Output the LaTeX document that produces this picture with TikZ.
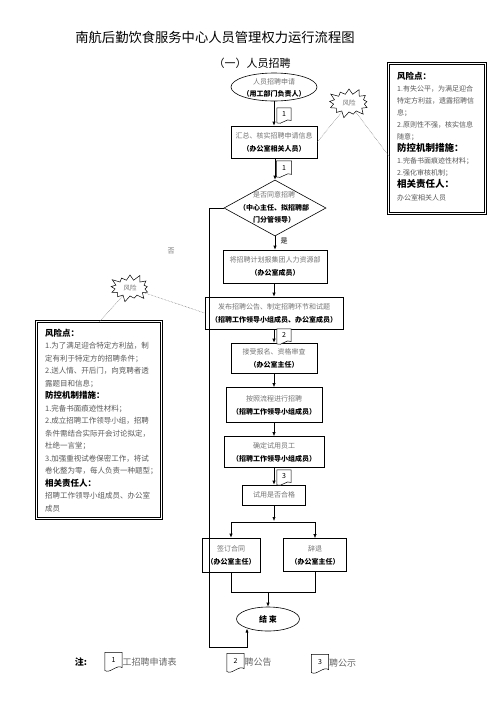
\documentclass[tikz,border=0pt]{standalone}
\usepackage{fontspec}
\setmainfont{Noto Sans CJK SC}
\usetikzlibrary{shapes.geometric,shapes.symbols,arrows.meta}
\newcommand\greytext[1]{{\color{black!55}#1}}
\newcommand\docmark[4]{%
  \node[docnode, minimum width=#4, minimum height=#4] (#1) at (#2) {};
  \draw[docline] (#1.north west) -- (#1.north east) -- ([yshift=0.12*#4]#1.south east)
     .. controls ([xshift=-0.3*#4, yshift=0.35*#4]#1.south east) and ([xshift=0.3*#4, yshift=-0.25*#4]#1.south west) ..
     ([yshift=-0.05*#4]#1.south west) -- cycle;
  \node[doctext] (#1t) at ([yshift=0.6pt]#1) {#3};}
\begin{document}
\begin{tikzpicture}[x=1pt,y=-1pt,
  flowbox/.style={draw, line width=0.6pt, fill=white, align=center, inner sep=1pt,
     font=\fontsize{7}{13}\selectfont},
  arr/.style={-{Latex[length=4pt,width=3.2pt]}, line width=0.6pt},
  riskline/.style={densely dotted, line width=0.5pt, black!60},
  docnode/.style={inner sep=0pt, draw=none},
  docline/.style={draw, line width=0.5pt, fill=white},
  doctext/.style={inner sep=0pt, font=\fontsize{7}{8}\selectfont},
  riskbox/.style={draw=black, line width=0.5pt, fill=white},
  riskframe/.style={draw=black, line width=1.4pt},
  sburst/.style={starburst, draw, line width=0.5pt, fill=white, inner sep=0pt,
     starburst point height=7pt, starburst points=13, text=black!55,
     font=\fontsize{6.5}{7}\selectfont},
  lbl/.style={inner sep=0pt, font=\fontsize{7}{8}\selectfont}
]
\useasboundingbox (0,0) rectangle (496,702);
\fill[white] (0,0) rectangle (496,702);

% titles
\node[inner sep=0pt, font=\fontsize{13.3}{14}\selectfont] (title) at (215,37) {南航后勤饮食服务中心人员管理权力运行流程图};
\node[inner sep=0pt, font=\fontsize{11}{12}\selectfont] (subtitle) at (252,63) {（一）人员招聘};

% start ellipse
\node[ellipse, draw, line width=0.6pt, minimum width=86pt, minimum height=28pt, inner sep=0pt] (e1) at (274,87) {};
\node[inner sep=0pt, align=center, font=\fontsize{7}{12}\selectfont] (e1t) at (274,88) {\greytext{人员招聘申请}\\\textbf{（用工部门负责人）}};

\node[flowbox, minimum width=86pt, minimum height=32pt] (b1) at (274,142) {\greytext{汇总、核实招聘申请信息}\\\textbf{（办公室相关人员）}};

\node[diamond, draw, line width=0.6pt, minimum width=102pt, minimum height=56pt, inner sep=0pt] (dm) at (275,208) {};
\node[inner sep=0pt, align=center, font=\fontsize{7}{12.5}\selectfont] (dmt) at (274,207.5) {\greytext{是否同意招聘}\\\textbf{（中心主任、拟招聘部}\\\textbf{门分管领导）}};

\node[flowbox, minimum width=104pt, minimum height=33pt] (b2) at (275,266.5) {\greytext{将招聘计划报集团人力资源部}\\\textbf{（办公室成员）}};
\node[flowbox, minimum width=138pt, minimum height=32pt] (b3) at (274,313) {\greytext{发布招聘公告、制定招聘环节和试题}\\\textbf{（招聘工作领导小组成员、办公室成员）}};
\node[flowbox, minimum width=86pt, minimum height=30pt] (b4) at (274,358) {\greytext{接受报名、资格审查}\\\textbf{（办公室主任）}};
\node[flowbox, minimum width=96pt, minimum height=35pt] (b5) at (274,405) {\greytext{按照流程进行招聘}\\\textbf{（招聘工作领导小组成员）}};
\node[flowbox, minimum width=100pt, minimum height=31pt] (b6) at (274,452) {\greytext{确定试用员工}\\\textbf{（招聘工作领导小组成员）}};
\node[flowbox, minimum width=63pt, minimum height=20pt] (b7) at (274,495) {\greytext{试用是否合格}};
\node[flowbox, minimum width=58pt, minimum height=34pt] (b8) at (231,555) {\greytext{签订合同}\\\textbf{（办公室主任）}};
\node[flowbox, minimum width=63pt, minimum height=33pt] (b9) at (315,555) {\greytext{辞退}\\\textbf{（办公室主任）}};
\node[ellipse, draw, line width=0.6pt, fill=white, minimum width=63pt, minimum height=24pt, inner sep=0pt,
      font=\fontsize{8}{9}\selectfont\bfseries] (e2) at (268,619) {结 束};

% main arrows
\draw[arr] (e1) -- (b1);
\draw[arr] (b1.south -| dm) -- (dm);
\draw[arr] (dm) -- (b2);
\node[lbl] (yes) at (284,241) {是};
\draw[arr] (b2.south -| b3) -- (b3);
\draw[arr] (b3) -- (b4);
\draw[arr] (b4) -- (b5);
\draw[arr] (b5) -- (b6);
\draw[arr] (b6) -- (b7);
\coordinate (jc) at (274,521);
\coordinate (jl) at (231,522);
\coordinate (jr) at (315,522);
\draw[arr] (b7) -- (jc);
\draw[line width=0.6pt] (jl) -- (jr);
\draw[arr] (jl) -- (b8);
\draw[arr] (jr) -- (b9);
\coordinate (ml) at (231,592);
\coordinate (mr) at (315,592);
\coordinate (mm) at (268,592);
\draw[line width=0.6pt] (b8.south) -- (ml) -- (mr) -- (b9.south);
\draw[arr] (mm) -- (e2);

% document markers
\docmark{d1}{284,115}{1}{14pt}
\docmark{d1b}{284,168.5}{1}{15pt}
\docmark{d2}{284,336}{2}{14pt}
\docmark{d3}{284,477}{3}{14pt}

% "no" branch
\node[lbl, text=black!55] (no) at (171,251) {否};
\coordinate (c1) at (209,208);
\coordinate (c2) at (209,647);
\coordinate (c3) at (247,647);
\coordinate (c4) at (247,628.5);
\draw[arr, line width=0.9pt] (dm.west) -- (c1) -- (c2) -- (c3) -- (c4);

% right risk
\node[sburst, minimum width=45pt, minimum height=32pt] (sb1) at (349,103) {风险};
\node[riskbox, minimum width=95pt, minimum height=148pt] (rb) at (437,138.5) {};
\draw[riskframe] ([shift={(-1.8pt,1.8pt)}]rb.north west) rectangle ([shift={(1.8pt,-1.8pt)}]rb.south east);
\node[anchor=north west, align=left, inner sep=0pt, text=black!65, font=\fontsize{7}{12.1}\selectfont] (rbt) at (397,71.5) {%
{\color{black}\bfseries\fontsize{8.5}{12.1}\selectfont 风险点：}\\
1.有失公平，为满足迎合\\
特定方利益，遗露招聘信\\
息；\\
2.原则性不强，核实信息\\
随意；\\
{\color{black}\bfseries\fontsize{9.5}{12.1}\selectfont 防控机制措施：}\\
1.完备书面痕迹性材料；\\
2.强化审核机制；\\
{\color{black}\bfseries\fontsize{9.5}{12.1}\selectfont 相关责任人：}\\
办公室相关人员};
\draw[riskline] (b1.east) -- (sb1);
\draw[riskline] (sb1) -- ([yshift=-18pt]rb.west);

% left risk
\node[sburst, minimum width=44pt, minimum height=30pt] (sb2) at (130,288) {风险};
\node[riskbox, minimum width=123pt, minimum height=195pt] (lb) at (99,420) {};
\draw[riskframe] ([shift={(-1.8pt,1.8pt)}]lb.north west) rectangle ([shift={(1.8pt,-1.8pt)}]lb.south east);
\node[anchor=north west, align=left, inner sep=0pt, text=black!65, font=\fontsize{7.5}{12.5}\selectfont] (lbt) at (45,328.5) {%
{\color{black}\bfseries\fontsize{8.5}{12.5}\selectfont 风险点：}\\
1.为了满足迎合特定方利益，制\\
定有利于特定方的招聘条件；\\
2.送人情、开后门，向竞聘者透\\
露题目和信息；\\
{\color{black}\bfseries\fontsize{8.5}{12.5}\selectfont 防控机制措施：}\\
1.完备书面痕迹性材料；\\
2.成立招聘工作领导小组，招聘\\
条件需结合实际开会讨论拟定，\\
杜绝一言堂；\\
3.加强重视试卷保密工作，将试\\
卷化整为零，每人负责一种题型；\\
{\color{black}\bfseries\fontsize{8.5}{12.5}\selectfont 相关责任人：}\\
招聘工作领导小组成员、办公室\\
成员};
\draw[riskline] (sb2) -- (b3.west);
\draw[riskline] (sb2) -- (lb.north);

% legend
\node[inner sep=0pt, font=\fontsize{9}{10}\selectfont\bfseries] (note) at (81,662) {注:};
\docmark{g1}{113.5,661}{1}{17pt}
\docmark{g2}{235.5,662}{2}{17pt}
\docmark{g3}{320,663}{3}{17pt}
\node[anchor=west, inner sep=0pt, text=black!60, font=\fontsize{9}{10}\selectfont] (l1) at (122.5,662) {工招聘申请表};
\node[anchor=west, inner sep=0pt, text=black!60, font=\fontsize{9}{10}\selectfont] (l2) at (244.5,662) {聘公告};
\node[anchor=west, inner sep=0pt, text=black!60, font=\fontsize{9}{10}\selectfont] (l3) at (329,663) {聘公示};
\end{tikzpicture}
\end{document}
